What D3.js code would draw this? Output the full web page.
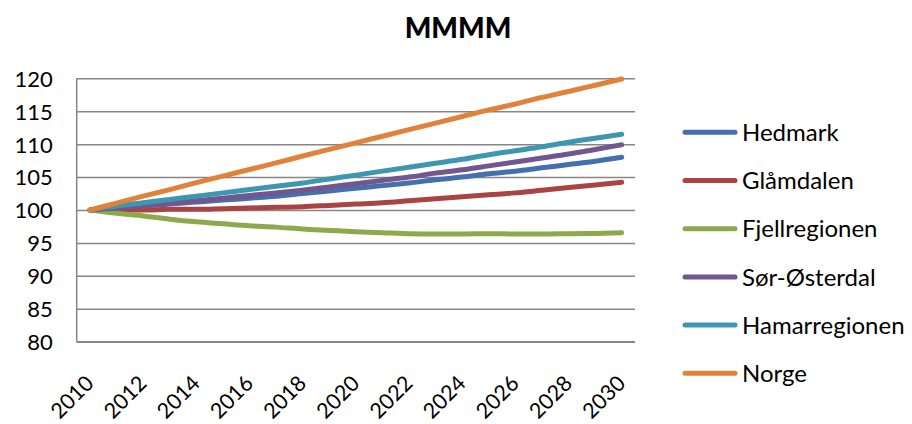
<!DOCTYPE html>
<html><head><meta charset="utf-8">
<script src="https://cdn.jsdelivr.net/npm/d3@7"></script>
<style>html,body{margin:0;padding:0;background:#fff;}svg{display:block;font-family:Lato,"Open Sans",sans-serif;}</style>
</head><body>
<svg id="chart" width="912" height="424"></svg>
<script>
const title = "MMMM";
const years = [2010,2011,2012,2013,2014,2015,2016,2017,2018,2019,2020,2021,2022,2023,2024,2025,2026,2027,2028,2029,2030];
const yTicks = [80,85,90,95,100,105,110,115,120];
const xTickYears = [2010,2012,2014,2016,2018,2020,2022,2024,2026,2028,2030];
const seriesNames = ["Hedmark","Glåmdalen","Fjellregionen","Sør-Østerdal","Hamarregionen","Norge"];
const seriesColors = ["#4471AE","#A94443","#8AAA4B","#71568F","#3D97B0","#E0823A"];
const hedmark = [100,100.3,100.6,100.9,101.2,101.5,101.8,102.1,102.5,102.9,103.3,103.7,104.1,104.6,105.0,105.5,105.9,106.4,106.9,107.4,108.0];
const glamdalen = [100,100.0,100.0,100.1,100.1,100.2,100.3,100.4,100.5,100.7,100.9,101.1,101.4,101.7,102.0,102.3,102.6,103.0,103.4,103.8,104.2];
const fjellregionen = [100,99.5,99.1,98.6,98.2,97.9,97.6,97.4,97.1,96.9,96.7,96.55,96.4,96.35,96.35,96.4,96.35,96.35,96.4,96.45,96.55];
const sorOsterdal = [100,100.3,100.7,101.0,101.4,101.8,102.2,102.6,103.0,103.5,104.0,104.5,105.0,105.6,106.1,106.7,107.3,107.9,108.5,109.2,109.9];
const hamarregionen = [100,100.6,101.1,101.6,102.1,102.6,103.1,103.6,104.1,104.7,105.3,105.9,106.5,107.1,107.7,108.4,109.0,109.6,110.3,110.9,111.5];
const norge = [100,101.05,102.1,103.1,104.15,105.15,106.15,107.15,108.2,109.2,110.2,111.2,112.2,113.2,114.2,115.2,116.1,117.1,118.0,118.95,119.9];
const seriesValues = [hedmark, glamdalen, fjellregionen, sorOsterdal, hamarregionen, norge];

const svg = d3.select("#chart");
const L = 76.7, R = 635, T = 78.3, B = 341.7;

const x = d3.scaleBand().domain(years).range([L, R]);
const y = d3.scaleLinear().domain([80,120]).range([B, T]);
const cx = yr => x(yr) + x.bandwidth()/2;

// title
svg.append("text").attr("x", 458).attr("y", 38).attr("text-anchor","middle")
  .attr("font-size", 28).attr("font-weight", "900").attr("fill","#000").text(title);

// gridlines
const yAxis = d3.axisLeft(y).tickValues(yTicks).tickSize(-(R-L)).tickPadding(24).tickFormat(d3.format("d"));
const gy = svg.append("g").attr("transform", `translate(${L},0)`).call(yAxis);
gy.select(".domain").remove();
gy.selectAll(".tick line").attr("stroke","#868686").attr("stroke-width",1.5);
gy.selectAll(".tick text").attr("font-size",22).attr("fill","#000").attr("font-family","Lato").attr("dy","0.36em");

// axis lines
svg.append("line").attr("x1",L).attr("x2",L).attr("y1",T).attr("y2",B).attr("stroke","#868686").attr("stroke-width",1.5);
svg.append("line").attr("x1",L).attr("x2",R).attr("y1",B).attr("y2",B).attr("stroke","#868686").attr("stroke-width",1.5);

// x labels
const xAxis = d3.axisBottom(x).tickValues(xTickYears).tickSize(0).tickFormat(d3.format("d"));
const gx = svg.append("g").attr("transform", `translate(0,${B})`).call(xAxis);
gx.select(".domain").remove();
gx.selectAll(".tick text")
  .attr("font-size",21.5).attr("fill","#000").attr("font-family","Lato")
  .attr("text-anchor","end").attr("dy",0).attr("y",0)
  .attr("transform","translate(5,43) rotate(-45)");

// lines
const line = d3.line().x((d,i)=>cx(years[i])).y(d=>y(d)).curve(d3.curveMonotoneX);
seriesValues.forEach((vals,k)=>{
  svg.append("path").datum(vals).attr("d",line).attr("fill","none")
    .attr("stroke",seriesColors[k]).attr("stroke-width",5).attr("stroke-linecap","round").attr("stroke-linejoin","round");
});

// legend
const ly = d3.scalePoint().domain(seriesNames).range([132.3, 373.3]);
const lg = svg.append("g");
seriesNames.forEach((n,k)=>{
  lg.append("line").attr("x1",685).attr("x2",735).attr("y1",ly(n)).attr("y2",ly(n))
    .attr("stroke",seriesColors[k]).attr("stroke-width",5).attr("stroke-linecap","round");
  lg.append("text").attr("x",742).attr("y",ly(n)).attr("dy","0.36em").attr("font-size",24).attr("fill","#000").text(n);
});
</script>
</body></html>
